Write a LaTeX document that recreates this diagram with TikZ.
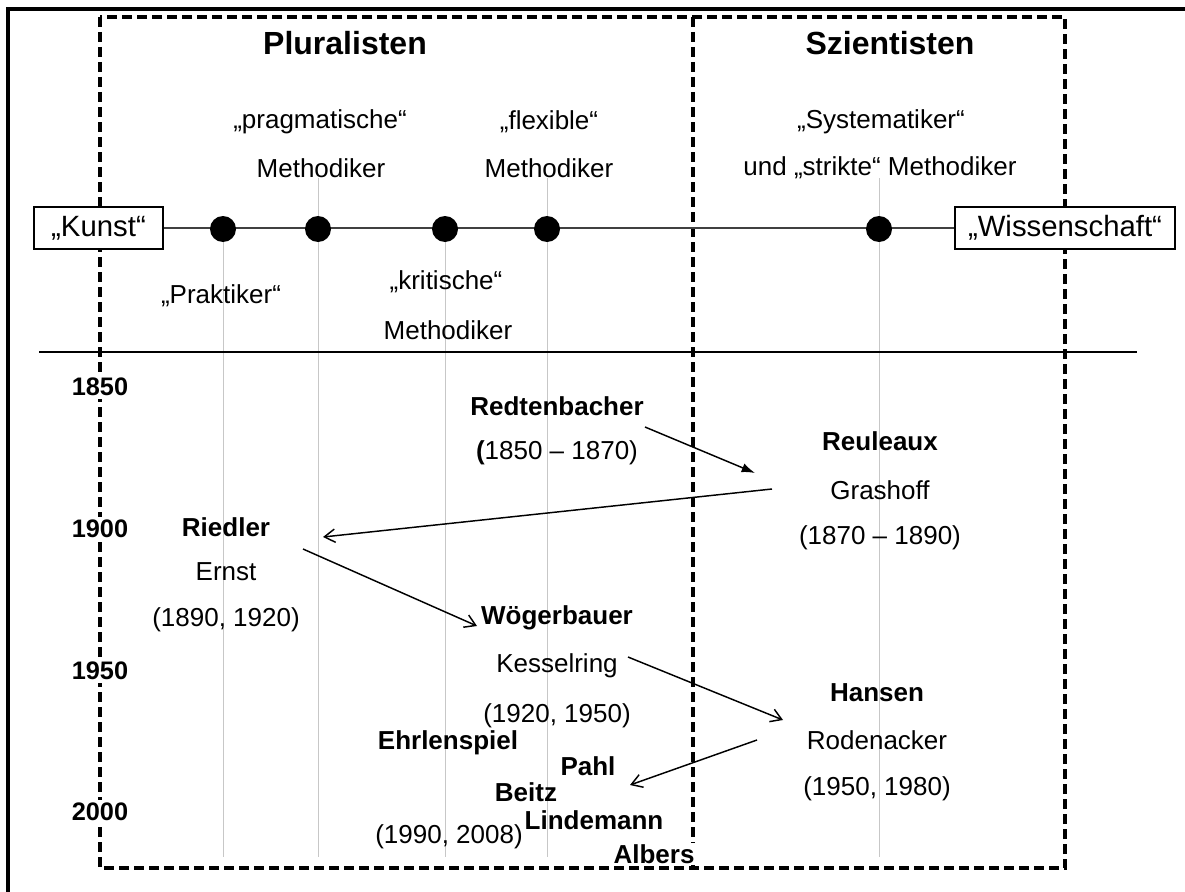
\documentclass[tikz,border=0pt]{standalone}
\usepackage{fontspec}
\setmainfont{Liberation Sans}
\usetikzlibrary{arrows.meta,calc}
\begin{document}
\begin{tikzpicture}[x=0.75pt,y=-0.75pt,
  txt/.style={inner sep=1pt, font=\fontsize{19.5}{23}\selectfont},
  nm/.style={inner sep=1pt, font=\fontsize{19.5}{23}\selectfont\bfseries},
  head/.style={inner sep=1pt, font=\fontsize{24}{28}\selectfont\bfseries},
  pole/.style={draw, line width=1.2pt, fill=white, minimum height=31.5pt, inner sep=0pt, font=\fontsize{22}{26}\selectfont},
  dotmark/.style={circle, fill=black, minimum size=19.5pt, inner sep=0pt},
  year/.style={fill=white, inner sep=2pt, font=\fontsize{19}{22}\selectfont\bfseries},
  group/.style={line width=2.6pt, dash pattern=on 7.5pt off 3.75pt},
  guide/.style={black!22, line width=0.6pt},
  link/.style={line width=1.1pt, -{Straight Barb[length=8pt,width=10pt]}},
  linkfull/.style={line width=1.1pt, -{Latex[length=10pt,width=7pt]}},
]
\useasboundingbox (0,0) rectangle (1185,892);
% outer frame
\draw[line width=2.3pt] (8,892) -- (8,9) -- (1185,9);

% vertical guide lines below the positions
\draw[guide] (223,229) -- (223,857);
\draw[guide] (318,178) -- (318,857);
\draw[guide] (445,229) -- (445,857);
\draw[guide] (547,178) -- (547,857);
\draw[guide] (879,178) -- (879,857);

% group frames
\draw[group] (100,17) rectangle (1065,868);
\draw[group] (693,17) -- (693,868);

% separator between scale and time line
\draw[line width=1pt] (39,352) -- (1137,352);

% scale from art to science
\node[pole, minimum width=96.75pt] (kunst) at (98.5,228) {„Kunst“};
\node[pole, minimum width=165pt] (wiss) at (1065,228) {„Wissenschaft“};
\draw[black!75, line width=1.4pt] (kunst) -- (wiss);
\node[dotmark] (p1) at (223,229) {};
\node[dotmark] (p2) at (318,229) {};
\node[dotmark] (p3) at (445,229) {};
\node[dotmark] (p4) at (547,229) {};
\node[dotmark] (p5) at (879,229) {};

% headings
\node[head] (plur) at (345,43) {Pluralisten};
\node[head] (szie) at (890,43) {Szientisten};

% position labels
\node[txt] (l2a) at (320,122) {„pragmatische“};
\node[txt] (l2b) at (321,168) {Methodiker};
\node[txt] (l4a) at (549,122) {„flexible“};
\node[txt] (l4b) at (549,168) {Methodiker};
\node[txt] (l5a) at (881,122) {„Systematiker“};
\node[txt] (l5b) at (880,168) {und „strikte“ Methodiker};
\node[txt] (l1) at (221,296) {„Praktiker“};
\node[txt] (l3a) at (446,282) {„kritische“};
\node[txt] (l3b) at (448,330) {Methodiker};

% years
\node[year] (y1850) at (100,387) {1850};
\node[year] (y1900) at (100,529) {1900};
\node[year] (y1950) at (100,671) {1950};
\node[year] (y2000) at (100,812) {2000};

% persons
\node[nm] (redt) at (557,406) {Redtenbacher};
\node[txt] (redty) at (557,453) {\textbf{(}1850 – 1870)};
\node[nm] (reul) at (880,441) {Reuleaux};
\node[txt] (gras) at (880,490) {Grashoff};
\node[txt] (reuly) at (880,538) {(1870 – 1890)};
\node[nm] (ried) at (226,527) {Riedler};
\node[txt] (erns) at (226,572) {Ernst};
\node[txt] (riedy) at (226,620) {(1890, 1920)};
\node[nm] (woeg) at (557,618) {Wögerbauer};
\node[txt] (kess) at (557,666) {Kesselring};
\node[txt] (woegy) at (557,716) {(1920, 1950)};
\node[nm] (hans) at (877,693) {Hansen};
\node[txt] (rode) at (877,740) {Rodenacker};
\node[txt] (hansy) at (877,789) {(1950, 1980)};
\node[nm] (ehrl) at (448,743) {Ehrlenspiel};
\node[nm] (pahl) at (588,766) {Pahl};
\node[nm] (beit) at (526,792) {Beitz};
\node[nm] (lind) at (594,820) {Lindemann};
\node[txt] (ehrly) at (449,837) {(1990, 2008)};
\node[nm, fill=white] (albe) at (654,854) {Albers};

% lines of influence
\coordinate (a1s) at (645,427);
\coordinate (a1e) at (755,473);
\coordinate (a2s) at (772,489);
\coordinate (a2e) at (323,537);
\coordinate (a3s) at (303,549);
\coordinate (a3e) at (477,626);
\coordinate (a4s) at (628,657);
\coordinate (a4e) at (783,720);
\coordinate (a5s) at (757,740);
\coordinate (a5e) at (630,785);
\draw[linkfull] (a1s) -- (a1e);
\draw[link] (a2s) -- (a2e);
\draw[link] (a3s) -- (a3e);
\draw[link] (a4s) -- (a4e);
\draw[link] (a5s) -- (a5e);
\end{tikzpicture}
\end{document}
